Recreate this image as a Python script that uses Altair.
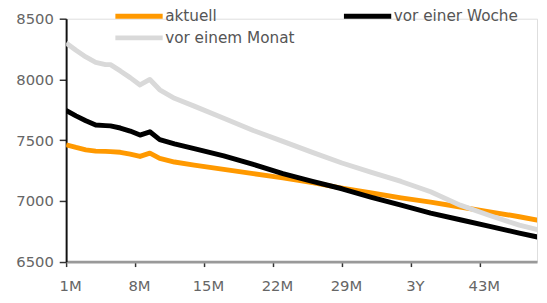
import altair as alt
import pandas as pd

# Laufzeit in Monaten
months = [1, 2, 3, 4, 5, 5.5, 6.5, 7.5, 8.5, 9.5, 10.5, 12, 14, 17, 20, 23, 26, 29, 32, 35, 38, 41, 44, 47, 49]

aktuell = [7462, 7440, 7420, 7410, 7408, 7406, 7400, 7385, 7366, 7393, 7350, 7320, 7295,
           7260, 7225, 7190, 7150, 7105, 7065, 7025, 6990, 6950, 6910, 6870, 6840]
vor_einer_woche = [7745, 7700, 7660, 7625, 7620, 7618, 7600, 7575, 7542, 7569, 7505, 7470, 7430,
                   7370, 7300, 7225, 7160, 7100, 7030, 6965, 6900, 6845, 6790, 6735, 6700]
vor_einem_monat = [8300, 8240, 8185, 8140, 8122, 8122, 8070, 8015, 7955, 8000, 7915, 7845, 7780,
                   7680, 7580, 7490, 7400, 7312, 7235, 7160, 7075, 6965, 6880, 6800, 6760]

series_names = ["aktuell", "vor einer Woche", "vor einem Monat"]
series_colors = ["#FF9900", "#000000", "#D9D9D9"]
# legend fills column by column: first column aktuell / vor einem Monat
legend_order = ["aktuell", "vor einem Monat", "vor einer Woche"]

tick_values = [1, 8, 15, 22, 29, 36, 43]
tick_labels = ["1M", "8M", "15M", "22M", "29M", "3Y", "43M"]
y_ticks = [6500, 7000, 7500, 8000, 8500]

rows = []
for name, vals in zip(series_names, [aktuell, vor_einer_woche, vor_einem_monat]):
    for m, v in zip(months, vals):
        rows.append({"Laufzeit": m, "Wert": v, "Serie": name})
df = pd.DataFrame(rows)

label_expr = " : ".join(f"datum.value == {v} ? '{l}'" for v, l in zip(tick_values, tick_labels)) + " : ''"

FONT = "DejaVu Sans"

x_enc = alt.X(
    "Laufzeit:Q",
    scale=alt.Scale(domain=[1, 48.8], nice=False, zero=False),
    axis=alt.Axis(
        values=tick_values, labelExpr=label_expr, title=None, grid=False,
        domainColor="#999999", domainWidth=3, tickColor="#333333", tickSize=5, tickWidth=1.5,
        labelFont=FONT, labelFontSize=15, labelColor="#666666", labelPadding=12,
        labelOffset=4, labelFlush=False,
    ),
)
y_enc = alt.Y(
    "Wert:Q",
    scale=alt.Scale(domain=[6500, 8500], nice=False, zero=False),
    axis=alt.Axis(
        values=y_ticks, format="d", title=None, grid=False, domainColor="#111111", domainWidth=2,
        tickColor="#333333", tickSize=7, tickWidth=1.5,
        labelFont=FONT, labelFontSize=15, labelColor="#666666", labelPadding=6,
    ),
)
color_enc = alt.Color(
    "Serie:N",
    scale=alt.Scale(domain=series_names, range=series_colors),
    legend=alt.Legend(
        orient="none", legendX=47.5, legendY=-13.5, columns=2, title=None,
        values=legend_order,
        symbolType="stroke", symbolSize=2304, symbolStrokeWidth=5, clipHeight=22,
        labelFont=FONT, labelFontSize=15.5, labelColor="#555555", labelOffset=0,
        columnPadding=47, rowPadding=-2, padding=0,
    ),
)

base = alt.Chart(df).mark_line(strokeWidth=5, clip=True, strokeJoin="round").encode(
    x=x_enc, y=y_enc, color=color_enc
)

layers = [base.transform_filter(alt.datum.Serie == name) for name in series_names]

chart = alt.layer(*layers).properties(
    width=478, height=246.6,
    autosize=alt.AutoSizeParams(type="none"),
    padding={"left": 59, "top": 8.7, "right": 2, "bottom": 32},
).configure_view(stroke=None).configure(background="white")

chart.save("out.html", embed_options={"renderer": "svg", "actions": False})
